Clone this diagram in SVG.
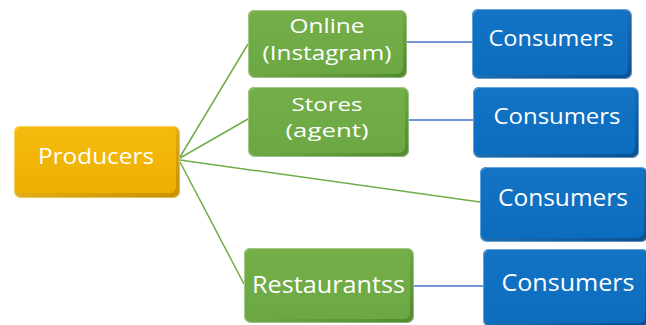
<svg xmlns="http://www.w3.org/2000/svg" width="646" height="325" viewBox="0 0 646 325">
  <defs>
    <!-- bevelled edge shading for each box colour -->
    <linearGradient id="edgeGold" x1="0" y1="0" x2="1" y2="1">
      <stop offset="0" stop-color="#f7c82a"/>
      <stop offset="1" stop-color="#c98f00"/>
    </linearGradient>
    <linearGradient id="edgeGreen" x1="0" y1="0" x2="1" y2="1">
      <stop offset="0" stop-color="#8cc463"/>
      <stop offset="1" stop-color="#4f8a2c"/>
    </linearGradient>
    <linearGradient id="edgeBlue" x1="0" y1="0" x2="1" y2="1">
      <stop offset="0" stop-color="#2c8ad6"/>
      <stop offset="1" stop-color="#0a4f90"/>
    </linearGradient>
    <linearGradient id="faceGold" x1="0" y1="0" x2="0" y2="1">
      <stop offset="0" stop-color="#f4bb0e"/>
      <stop offset="1" stop-color="#eeb000"/>
    </linearGradient>
    <linearGradient id="faceGreen" x1="0" y1="0" x2="0" y2="1">
      <stop offset="0" stop-color="#74ae49"/>
      <stop offset="1" stop-color="#6ba843"/>
    </linearGradient>
    <linearGradient id="faceBlue" x1="0" y1="0" x2="0" y2="1">
      <stop offset="0" stop-color="#1373c4"/>
      <stop offset="1" stop-color="#0c6cbd"/>
    </linearGradient>
  </defs>
  <style>
    .lbl { font-family: "Open Sans", "Liberation Sans", sans-serif; fill: #ffffff; text-anchor: middle; }
    .gold .edge { fill: url(#edgeGold); }
    .gold .face { fill: url(#faceGold); }
    .green .edge { fill: url(#edgeGreen); }
    .green .face { fill: url(#faceGreen); }
    .blue .edge { fill: url(#edgeBlue); }
    .blue .face { fill: url(#faceBlue); }
    .shine { fill: none; stroke: #ffffff; stroke-opacity: 0.35; stroke-width: 1; }
    .lnk-green { stroke: #70ad47; stroke-width: 1.5; fill: none; }
    .lnk-blue { stroke: #4472c4; stroke-width: 1.3; fill: none; }
  </style>

  <!-- connectors -->
  <g id="connectors">
    <line class="lnk-green" x1="180" y1="157" x2="248" y2="44"/>
    <line class="lnk-green" x1="180" y1="158" x2="248" y2="119"/>
    <line class="lnk-green" x1="180" y1="160" x2="480" y2="202"/>
    <line class="lnk-green" x1="180" y1="162" x2="244" y2="284"/>
    <line class="lnk-blue" x1="406" y1="42" x2="472" y2="42"/>
    <line class="lnk-blue" x1="408" y1="120" x2="473" y2="120"/>
    <line class="lnk-blue" x1="413" y1="286" x2="483" y2="286"/>
  </g>

  <!-- Producers -->
  <g id="producers" class="gold">
    <rect class="edge" x="14" y="126" width="166" height="72" rx="7"/>
    <rect class="face" x="14" y="126" width="162" height="67" rx="6"/>
    <rect class="shine" x="14.5" y="126.5" width="165" height="71" rx="7"/>
    <text class="lbl" x="96" y="164" font-size="21" textLength="116" lengthAdjust="spacingAndGlyphs">Producers</text>
  </g>

  <!-- Online (Instagram) -->
  <g id="online" class="green">
    <rect class="edge" x="248" y="10" width="159" height="68" rx="7"/>
    <rect class="face" x="248" y="10" width="155" height="64" rx="6"/>
    <rect class="shine" x="248.5" y="10.5" width="158" height="67" rx="7"/>
    <text class="lbl" x="327" y="33" font-size="20" textLength="75" lengthAdjust="spacingAndGlyphs">Online</text>
    <text class="lbl" x="327" y="60" font-size="20" textLength="129" lengthAdjust="spacingAndGlyphs">(Instagram)</text>
  </g>

  <!-- Stores (agent) -->
  <g id="stores" class="green">
    <rect class="edge" x="248" y="87" width="161" height="70" rx="7"/>
    <rect class="face" x="248" y="87" width="157" height="66" rx="6"/>
    <rect class="shine" x="248.5" y="87.5" width="160" height="69" rx="7"/>
    <text class="lbl" x="327" y="111" font-size="19" textLength="71" lengthAdjust="spacingAndGlyphs">Stores</text>
    <text class="lbl" x="327" y="137" font-size="19" textLength="83" lengthAdjust="spacingAndGlyphs">(agent)</text>
  </g>

  <!-- Restaurantss -->
  <g id="restaurantss" class="green">
    <rect class="edge" x="244" y="248" width="170" height="75" rx="7"/>
    <rect class="face" x="244" y="248" width="166" height="71" rx="6"/>
    <rect class="shine" x="244.5" y="248.5" width="169" height="74" rx="7"/>
    <text class="lbl" x="328.5" y="293" font-size="24" textLength="153" lengthAdjust="spacingAndGlyphs">Restaurantss</text>
  </g>

  <!-- Consumers (online) -->
  <g id="consumers-1" class="blue">
    <rect class="edge" x="472" y="9" width="160" height="70" rx="7"/>
    <rect class="face" x="472" y="9" width="156" height="66" rx="6"/>
    <rect class="shine" x="472.5" y="9.5" width="159" height="69" rx="7"/>
    <text class="lbl" x="551" y="46" font-size="22" textLength="125" lengthAdjust="spacingAndGlyphs">Consumers</text>
  </g>

  <!-- Consumers (stores) -->
  <g id="consumers-2" class="blue">
    <rect class="edge" x="473" y="87" width="166" height="71" rx="7"/>
    <rect class="face" x="473" y="87" width="162" height="67" rx="6"/>
    <rect class="shine" x="473.5" y="87.5" width="165" height="70" rx="7"/>
    <text class="lbl" x="557" y="124" font-size="22" textLength="127" lengthAdjust="spacingAndGlyphs">Consumers</text>
  </g>

  <!-- Consumers (direct) -->
  <g id="consumers-3" class="blue">
    <rect class="edge" x="480" y="167" width="168" height="75" rx="7"/>
    <rect class="face" x="480" y="167" width="164" height="71" rx="6"/>
    <rect class="shine" x="480.5" y="167.5" width="167" height="74" rx="7"/>
    <text class="lbl" x="563" y="206" font-size="23" textLength="130" lengthAdjust="spacingAndGlyphs">Consumers</text>
  </g>

  <!-- Consumers (restaurants) -->
  <g id="consumers-4" class="blue">
    <rect class="edge" x="483" y="249" width="166" height="78" rx="7"/>
    <rect class="face" x="483" y="249" width="162" height="74" rx="6"/>
    <rect class="shine" x="483.5" y="249.5" width="165" height="77" rx="7"/>
    <text class="lbl" x="568" y="291" font-size="24" textLength="133" lengthAdjust="spacingAndGlyphs">Consumers</text>
  </g>
</svg>
